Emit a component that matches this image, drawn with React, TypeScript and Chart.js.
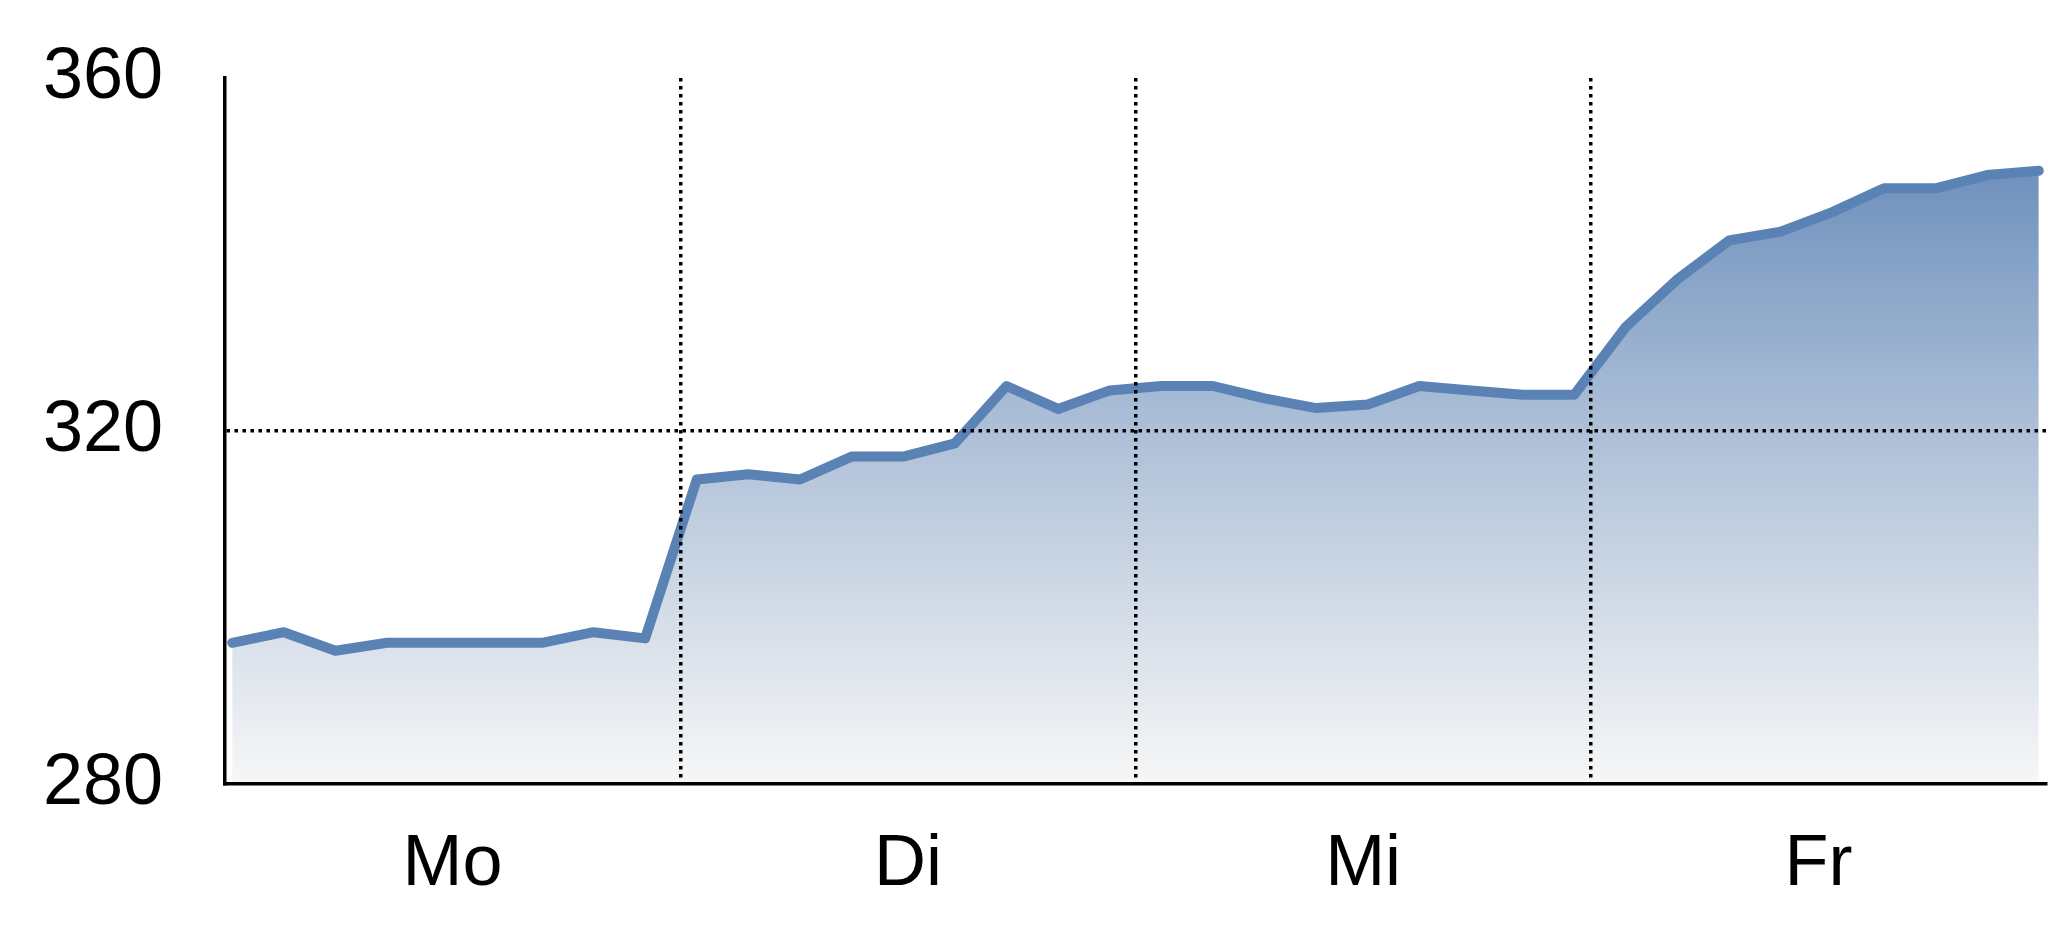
import { useEffect, useRef } from "react";
import { Chart, registerables } from "chart.js";

Chart.register(...registerables);

// one point per step, 36 steps across the week shown
const values: number[] = [
  296.0, 297.2, 295.1, 296.0, 296.0, 296.0, 296.0, 297.2, 296.5,
  314.5, 315.1, 314.5, 317.1, 317.1, 318.6, 325.1, 322.5, 324.6,
  325.1, 325.1, 323.7, 322.6, 323.0, 325.1, 324.6, 324.1, 324.1,
  331.8, 337.2, 341.6, 342.6, 344.8, 347.5, 347.5, 349.0, 349.5,
];

const dayLabels: string[] = ["Mo", "Di", "Mi", "Fr"];
// day boundaries on the step axis
const dayEdges: number[] = [-0.14, 8.68, 17.5, 26.32, 35.14];
const yTicks: number[] = [280, 320, 360];

const FONT = "'Liberation Sans', Arial, sans-serif";

export default function App() {
  const chartRef = useRef<HTMLCanvasElement | null>(null);
  const chartInstanceRef = useRef<Chart | null>(null);

  useEffect(() => {
    if (!chartRef.current) return;
    if (chartInstanceRef.current) chartInstanceRef.current.destroy();

    const innerEdges = dayEdges.slice(1, -1);
    const centers = dayLabels.map((_, i) => (dayEdges[i] + dayEdges[i + 1]) / 2);

    chartInstanceRef.current = new Chart(chartRef.current, {
      type: "line",
      data: {
        datasets: [
          {
            data: values.map((v, i) => ({ x: i, y: v })),
            borderColor: "#5a82b4",
            borderWidth: 10,
            borderCapStyle: "round",
            borderJoinStyle: "round",
            pointRadius: 0,
            tension: 0,
            fill: "start",
            backgroundColor: (ctx: any) => {
              const { chart } = ctx;
              const area = chart.chartArea;
              if (!area) return "rgba(100,137,184,0.5)";
              const g = chart.ctx.createLinearGradient(0, area.top, 0, area.bottom);
              g.addColorStop(0, "#5880b3");
              g.addColorStop(0.46, "#a7bbd5");
              g.addColorStop(1, "#f7f7f7");
              return g;
            },
          },
        ],
      },
      options: {
        animation: false,
        responsive: true,
        maintainAspectRatio: false,
        layout: { padding: { left: 43, top: 78, right: 2, bottom: 32 } },
        plugins: { legend: { display: false }, tooltip: { enabled: false } },
        scales: {
          x: {
            type: "linear",
            min: dayEdges[0],
            max: dayEdges[dayEdges.length - 1],
            afterBuildTicks: (axis: any) => {
              axis.ticks = [...innerEdges, ...centers]
                .sort((a, b) => a - b)
                .map((v) => ({ value: v }));
            },
            afterFit: (axis: any) => {
              axis.height = 121;
            },
            ticks: {
              autoSkip: false,
              maxRotation: 0,
              padding: 38,
              color: "#000",
              font: { family: FONT, size: 72 },
              callback: (value: any) => {
                const idx = centers.findIndex((c) => Math.abs(c - value) < 1e-6);
                return idx >= 0 ? dayLabels[idx] : "";
              },
            },
            grid: {
              z: 1,
              drawTicks: false,
              lineWidth: 3.5,
              color: (ctx: any) =>
                ctx.tick && innerEdges.some((e) => Math.abs(e - ctx.tick.value) < 1e-6)
                  ? "#000"
                  : "rgba(0,0,0,0)",
            },
            border: { display: true, color: "#000", width: 3.5, dash: [3.5, 4.5], z: 1 },
          },
          y: {
            min: 280,
            max: 360,
            afterBuildTicks: (axis: any) => {
              axis.ticks = yTicks.map((v) => ({ value: v }));
            },
            afterFit: (axis: any) => {
              axis.width = 182;
            },
            ticks: {
              padding: 0,
              crossAlign: "far",
              color: "#000",
              font: { family: FONT, size: 72 },
            },
            grid: {
              z: 1,
              drawTicks: false,
              lineWidth: 3.5,
              color: (ctx: any) =>
                ctx.tick && ctx.tick.value === 320 ? "#000" : "rgba(0,0,0,0)",
            },
            border: { display: true, color: "#000", width: 3.5, dash: [3.5, 4.5], z: 1 },
          },
        },
      },
    });

    return () => {
      if (chartInstanceRef.current) {
        chartInstanceRef.current.destroy();
        chartInstanceRef.current = null;
      }
    };
  }, []);

  return (
    <div style={{ position: "absolute", left: 0, top: 0, width: 2048, height: 937, background: "#fff" }}>
      <canvas ref={chartRef}></canvas>
    </div>
  );
}
